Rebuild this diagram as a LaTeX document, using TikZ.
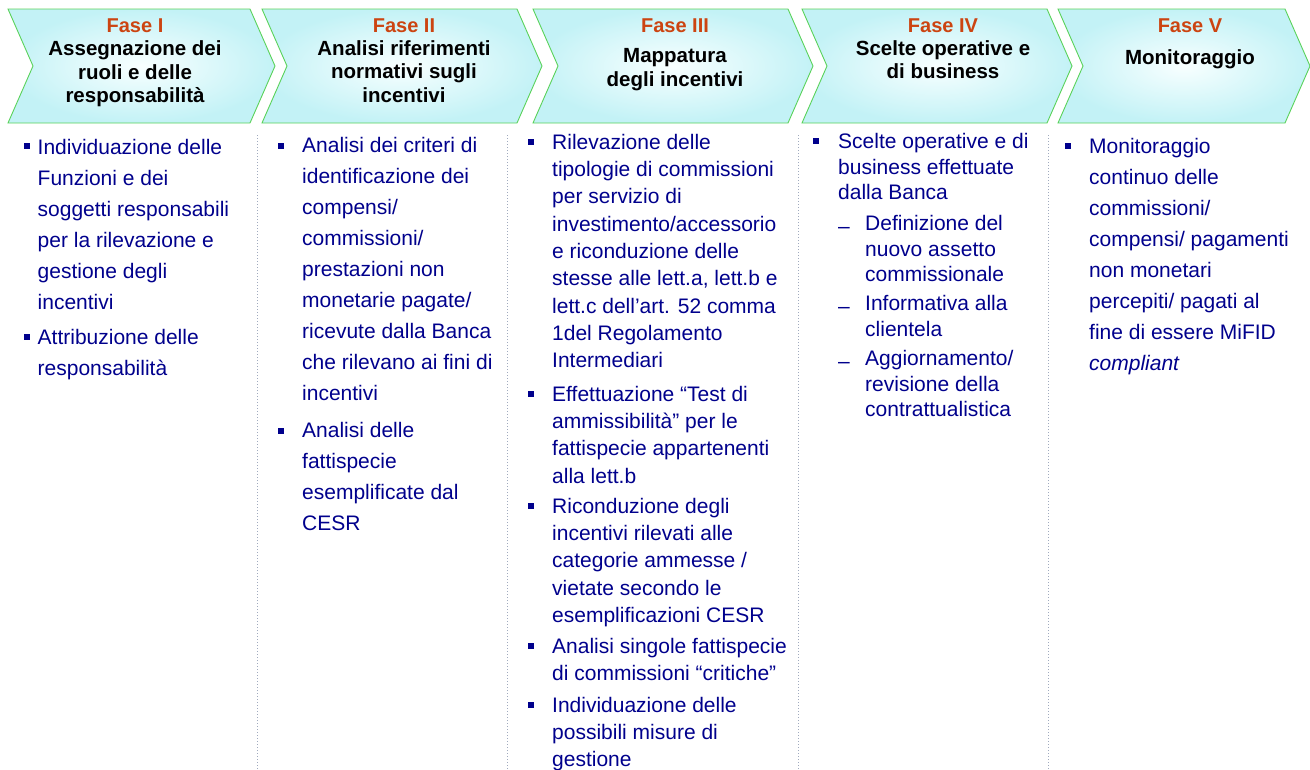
\documentclass[tikz,border=0pt]{standalone}
\usepackage{fontspec}
\setmainfont{Liberation Sans}
\usepackage{xcolor}
\usetikzlibrary{positioning}

\definecolor{chevgreen}{RGB}{90,210,90}
\definecolor{chevcyan}{RGB}{195,242,246}
\definecolor{chevwhite}{RGB}{248,255,255}
\definecolor{faseorange}{RGB}{204,68,17}
\definecolor{navytext}{RGB}{0,0,140}
\definecolor{sepgray}{RGB}{160,170,190}

\tikzset{
  fase/.style={anchor=base, inner sep=0pt, text=faseorange, font=\fontsize{20}{23.5}\selectfont\bfseries},
  titolo/.style={anchor=north, inner sep=0pt, align=center, font=\fontsize{20.5}{23.5}\selectfont\bfseries, execute at begin node=\strut},
  voce/.style={anchor=north west, inner sep=0pt, align=left, text=navytext, execute at begin node=\strut},
  bul/.style={fill=navytext, inner sep=0pt, minimum size=6pt},
}

\begin{document}
\begin{tikzpicture}[x=1pt, y=-1pt]
\useasboundingbox (0,0) rectangle (1310,769);
% Chevrons
\foreach \l/\r in {8/250,262/517,533/788,802/1047,1058/1285} {
    \shadedraw[draw=chevgreen, line width=0.9pt, inner color=chevwhite, outer color=chevcyan]
      (\l,9) -- (\r,9) -- (\r+25,66) -- (\r,123) -- (\l,123) -- (\l+25,66) -- cycle;
}
% Phase headers
\foreach \cx/\nr/\n in {135/I/1,404/II/2,675/III/3,943/IV/4,1190/V/5}
    \node[fase] (fase\n) at (\cx,32) {Fase \nr};
\node[titolo] (tit1) at (135,40.5) {Assegnazione dei\\ruoli e delle\\responsabilità};
\node[titolo] (tit2) at (404,40) {Analisi riferimenti\\normativi sugli\\incentivi};
\node[titolo] (tit3) at (675,48.5) {Mappatura\\degli incentivi};
\node[titolo] (tit4) at (943,40) {Scelte operative e\\di business};
\node[titolo] (tit5) at (1190,48) {Monitoraggio};
% Separators
\foreach \x in {257,507,798,1048}
    \draw[sepgray, dash pattern=on 1pt off 2pt, line width=0.6pt] (\x,135) -- (\x,769);
% Fase I
\node[bul] (b11) at (27,146) {};
\node[bul] (b12) at (27,337) {};
\node[voce, font=\fontsize{21}{31}\selectfont] (v11) at (37.5,138.8)
  {Individuazione delle\\Funzioni e dei\\soggetti responsabili\\per la rilevazione e\\gestione degli\\incentivi};
\node[voce, font=\fontsize{21}{31}\selectfont] (v12) at (37.5,328.8)
  {Attribuzione delle\\responsabilità};
% Fase II
\node[bul] (b21) at (280.5,146) {};
\node[bul] (b22) at (280.5,431) {};
\node[voce, font=\fontsize{21}{31}\selectfont] (v21) at (302,137.3)
  {Analisi dei criteri di\\identificazione dei\\compensi/\\commissioni/\\prestazioni non\\monetarie pagate/\\ricevute dalla Banca\\che rilevano ai fini di\\incentivi};
\node[voce, font=\fontsize{21}{31}\selectfont] (v22) at (302,422.3)
  {Analisi delle\\fattispecie\\esemplificate dal\\CESR};
% Fase III
\foreach \k/\y in {1/142,2/394,3/506,4/646,5/705}
    \node[bul] (b3\k) at (530.5,\y) {};
\node[voce, font=\fontsize{21}{27.3}\selectfont] (v31) at (552,133.9)
  {Rilevazione delle\\tipologie di commissioni\\per servizio di\\investimento/accessorio\\e riconduzione delle\\stesse alle lett.a, lett.b e\\lett.c dell’art. 52 comma\\1del Regolamento\\Intermediari};
\node[voce, font=\fontsize{21}{27.3}\selectfont] (v32) at (552,385.9)
  {Effettuazione “Test di\\ammissibilità” per le\\fattispecie appartenenti\\alla lett.b};
\node[voce, font=\fontsize{21}{27.3}\selectfont] (v33) at (552,497.9)
  {Riconduzione degli\\incentivi rilevati alle\\categorie ammesse /\\vietate secondo le\\esemplificazioni CESR};
\node[voce, font=\fontsize{21}{27.3}\selectfont] (v34) at (552,637.9)
  {Analisi singole fattispecie\\di commissioni “critiche”};
\node[voce, font=\fontsize{21}{27.3}\selectfont] (v35) at (552,696.9)
  {Individuazione delle\\possibili misure di\\gestione};
% Fase IV
\node[bul] (b41) at (815.5,141) {};
\node[voce, font=\fontsize{21}{25.7}\selectfont] (v41) at (838,133)
  {Scelte operative e di\\business effettuate\\dalla Banca};
\foreach \k/\y in {1/215,2/295,3/350}
    \node[voce, font=\fontsize{21}{25.7}\selectfont] (d4\k) at (838,\y) {–};
\node[voce, font=\fontsize{21}{25.7}\selectfont] (s41) at (865,215)
  {Definizione del\\nuovo assetto\\commissionale};
\node[voce, font=\fontsize{21}{25.7}\selectfont] (s42) at (865,295)
  {Informativa alla\\clientela};
\node[voce, font=\fontsize{21}{25.7}\selectfont] (s43) at (865,350)
  {Aggiornamento/\\revisione della\\contrattualistica};
% Fase V
\node[bul] (b51) at (1067.5,146) {};
\node[voce, font=\fontsize{21}{31}\selectfont] (v51) at (1089,138.3)
  {Monitoraggio\\continuo delle\\commissioni/\\compensi/ pagamenti\\non monetari\\percepiti/ pagati al\\fine di essere MiFID\\\textit{compliant}};
\end{tikzpicture}
\end{document}
